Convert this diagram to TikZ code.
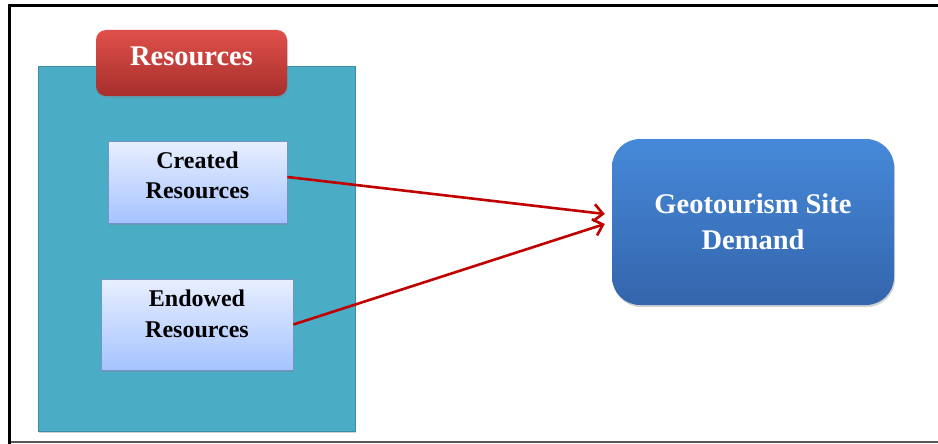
\documentclass[tikz,border=0pt]{standalone}
\usepackage{fontspec}
\setmainfont{Liberation Serif}
\usetikzlibrary{shadows,arrows.meta,calc}
\definecolor{tealfill}{HTML}{4BACC6}
\definecolor{tealline}{HTML}{3E8CA2}
\definecolor{redtop}{HTML}{E0504A}
\definecolor{redbot}{HTML}{A62F2C}
\definecolor{lbtop}{HTML}{E8EFFF}
\definecolor{lbbot}{HTML}{A6C3FF}
\definecolor{lbline}{HTML}{7493C8}
\definecolor{bltop}{HTML}{4689D9}
\definecolor{blbot}{HTML}{3465AC}
\definecolor{arrred}{HTML}{C00000}
\tikzset{
  shade1/.style={drop shadow={opacity=0.35,shadow xshift=1pt,shadow yshift=-2pt}},
  panel/.style={draw=tealline,line width=0.8pt,fill=tealfill,minimum width=317pt,minimum height=365pt,inner sep=0pt,shade1},
  redbox/.style={rounded corners=10pt,top color=redtop,bottom color=redbot,draw=none,minimum width=191pt,minimum height=66pt,inner sep=0pt,shade1},
  lightbox/.style={draw=lbline,line width=0.8pt,top color=lbtop,bottom color=lbbot,inner sep=0pt,shade1},
  bluebox/.style={rounded corners=28pt,top color=bltop,bottom color=blbot,draw=none,minimum width=282pt,minimum height=166pt,inner sep=0pt,shade1},
  wlabel/.style={text=white,font=\bfseries\fontsize{28.5}{36}\selectfont,align=center,inner sep=0pt},
  blabel/.style={text=black,font=\bfseries\fontsize{24}{30.5}\selectfont,align=center,inner sep=0pt},
  link/.style={draw=arrred,line width=2.6pt,-{Straight Barb[length=9pt,width=17pt,line width=2.6pt]}}
}
\begin{document}
\begin{tikzpicture}[x=1pt,y=-1pt]
\useasboundingbox (0,0) rectangle (938,444);
\fill[white] (0,0) rectangle (938,444);
% frame
\draw[line width=3pt] (9.5,5.5) -- (938,5.5);
\draw[line width=3pt] (9.5,4) -- (9.5,444);
\draw[line width=1.5pt,black!65] (11,442) -- (938,442);
% panel
\node[panel] (panel) at (196.5,248.5) {};
\node[redbox] (resbox) at (191.5,63) {};
\node[wlabel,anchor=base] (reslabel) at (191.5,66) {Resources};
% inner boxes
\node[lightbox,minimum width=179pt,minimum height=82pt] (cre) at (197.5,182) {};
\node[blabel] (crelabel) at (197.5,175.2) {Created\\Resources};
\node[lightbox,minimum width=192pt,minimum height=91pt] (end) at (197,324.5) {};
\node[blabel] (endlabel) at (197,313.6) {Endowed\\Resources};
% target
\node[bluebox] (geo) at (753,222) {};
\node[wlabel] (geolabel) at (753,221.5) {Geotourism Site\\Demand};
% arrows
\coordinate (s1) at ($(cre.east)+(0,-5)$);
\coordinate (s2) at ($(end.east)+(0,0)$);
\coordinate (t1) at ($(geo.west)+(-7,-8)$);
\coordinate (t2) at ($(geo.west)+(-7,2)$);
\draw[link] (s1) -- (t1);
\draw[link] (s2) -- (t2);
\end{tikzpicture}
\end{document}
